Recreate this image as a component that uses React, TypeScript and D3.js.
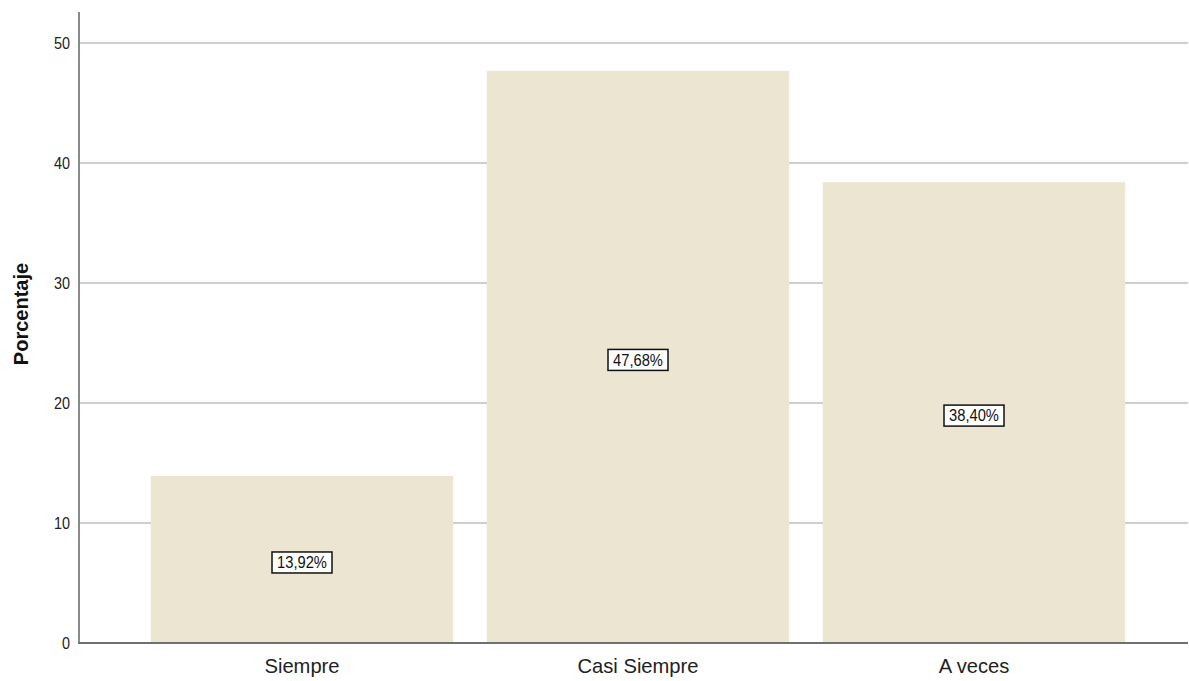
import React from "react";
import * as d3 from "d3";

const categories = ["Siempre", "Casi Siempre", "A veces"];
const values = [13.92, 47.68, 38.4];
const valueLabels = ["13,92%", "47,68%", "38,40%"];
const yTicks = [0, 10, 20, 30, 40, 50];

export default function App() {
  const W = 1189, H = 681;
  const left = 79, right = 1189, top = 12, bottom = 643;
  const y = d3.scaleLinear().domain([0, 50]).range([643, 43]);
  const x = d3.scaleBand().domain(categories).range([134, 1142]).paddingInner(0.1).paddingOuter(0.05);
  const font = "Arial, 'Liberation Sans', sans-serif";
  return (
    <svg width={W} height={H} style={{ position: "absolute", left: 0, top: 0 }} fontFamily={font}>
      <rect width={W} height={H} fill="#fff" />
      {yTicks.filter(t => t > 0).map(t => (
        <line key={t} x1={left} x2={right - 1} y1={y(t)} y2={y(t)} stroke="#cfcfcf" strokeWidth={2} />
      ))}
      {categories.map((c, i) => (
        <rect key={c} x={x(c)} y={y(values[i])} width={x.bandwidth()} height={bottom - y(values[i])} fill="#ebe5d1" />
      ))}
      <line x1={left} x2={left} y1={top} y2={bottom} stroke="#8a8a8a" strokeWidth={2} />
      <line x1={left - 1} x2={right - 1} y1={bottom} y2={bottom} stroke="#707070" strokeWidth={2} />
      {yTicks.map(t => (
        <text key={t} transform={`translate(70, ${y(t)}) scale(0.9, 1)`} dy="0.36em" textAnchor="end" fontSize={16} fill="#222">{t}</text>
      ))}
      {categories.map(c => (
        <text key={c} transform={`translate(${(x(c) as number) + x.bandwidth() / 2}, 673) scale(0.96, 1)`} textAnchor="middle" fontSize={21} fill="#222">{c}</text>
      ))}
      {categories.map((c, i) => {
        const cx = (x(c) as number) + x.bandwidth() / 2;
        const cy = (y(values[i]) + bottom) / 2 + 3;
        const bw = 60, bh = 21;
        return (
          <g key={c + "l"}>
            <rect x={cx - bw / 2} y={cy - bh / 2} width={bw} height={bh} fill="#fff" stroke="#111" strokeWidth={1.5} />
            <text transform={`translate(${cx}, ${cy}) scale(0.92, 1)`} dy="0.36em" textAnchor="middle" fontSize={16} fill="#111">{valueLabels[i]}</text>
          </g>
        );
      })}
      <text transform={`translate(28, 314) rotate(-90)`} textAnchor="middle" fontSize={20} fontWeight="bold" fill="#111">Porcentaje</text>
    </svg>
  );
}
